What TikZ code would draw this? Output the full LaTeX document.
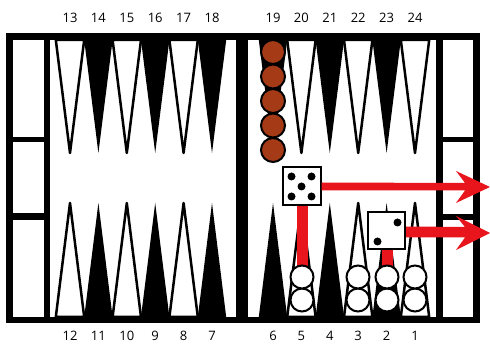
\documentclass[tikz,border=0pt]{standalone}
\usepackage{fontspec}
\setmainfont{Open Sans}
\definecolor{chkbrown}{RGB}{165,58,22}
\definecolor{arrred}{RGB}{232,22,28}
\begin{document}
\begin{tikzpicture}[x=1pt,y=-1pt,
  lbl/.style={font=\fontsize{13}{15}\selectfont, anchor=base, inner sep=0pt},
  wtri/.style={fill=white,draw=black,line width=2.5pt,line join=round},
  btri/.style={fill=black},
  bchk/.style={circle,fill=chkbrown,draw=black,line width=2pt,minimum size=24pt,inner sep=0pt},
  wchk/.style={circle,fill=white,draw=black,line width=2pt,minimum size=23pt,inner sep=0pt},
  diebox/.style={fill=white,draw=black,line width=2pt,inner sep=0pt},
  pip/.style={circle,fill=black,minimum size=8pt,inner sep=0pt},
  redbar/.style={fill=arrred}]
\useasboundingbox (0,0) rectangle (490,344);
% frame
\fill[black] (6,33) rectangle (480,323);
\fill[white] (13,40) rectangle (44,137);
\fill[white] (13,142) rectangle (44,213);
\fill[white] (13,220) rectangle (44,317);
\fill[white] (50,40) rectangle (236,317);
\fill[white] (248,40) rectangle (436,317);
\fill[white] (443,40) rectangle (473,137);
\fill[white] (443,142) rectangle (473,214);
\fill[white] (443,220) rectangle (473,317);
% triangles
\foreach \i in {0,...,5}{
  \pgfmathsetmacro{\xl}{70+28.4*\i}
  \pgfmathsetmacro{\xr}{273+28.4*\i}
  \ifodd\i
    \fill[btri] (\xl-14.2,40) -- (\xl,153) -- (\xl+14.2,40) -- cycle;
    \fill[btri] (\xl-14.2,317) -- (\xl,203) -- (\xl+14.2,317) -- cycle;
    \draw[wtri] (\xr-14.2,40) -- (\xr,153) -- (\xr+14.2,40) -- cycle;
    \draw[wtri] (\xr-14.2,317) -- (\xr,203) -- (\xr+14.2,317) -- cycle;
  \else
    \draw[wtri] (\xl-14.2,40) -- (\xl,153) -- (\xl+14.2,40) -- cycle;
    \draw[wtri] (\xl-14.2,317) -- (\xl,203) -- (\xl+14.2,317) -- cycle;
    \fill[btri] (\xr-14.2,40) -- (\xr,153) -- (\xr+14.2,40) -- cycle;
    \fill[btri] (\xr-14.2,317) -- (\xr,203) -- (\xr+14.2,317) -- cycle;
  \fi
}
% labels
\foreach \n [count=\k from 0] in {13,14,15,16,17,18}
  \node[lbl] (t\n) at (70+28.4*\k,23) {\n};
\foreach \n [count=\k from 0] in {19,20,21,22,23,24}
  \node[lbl] (t\n) at (273+28.4*\k,23) {\n};
\foreach \n [count=\k from 0] in {12,11,10,9,8,7}
  \node[lbl] (b\n) at (70+28.4*\k,340.5) {\n};
\foreach \n [count=\k from 0] in {6,5,4,3,2,1}
  \node[lbl] (b\n) at (273+28.4*\k,340.5) {\n};
% red connectors under checkers
\fill[redbar] (297,204) rectangle (308,268);
\fill[redbar] (382,249) rectangle (393,267);
% brown checkers on 19
\foreach \y [count=\k] in {52,76.5,101,125.5,150}
  \node[bchk] (bc\k) at (273,\y) {};
% white checkers
\foreach \x/\p in {302/5,358/3,387/2,415/1}{
  \node[wchk] (w\p a) at (\x,300) {};
  \node[wchk] (w\p b) at (\x,277) {};
}
% dice
\node[diebox,minimum size=38pt] (d1) at (301.5,186) {};
\node[pip] (p1) at (291.5,176.5) {};
\node[pip] (p2) at (311.5,176.5) {};
\node[pip] (p3) at (301.5,186.5) {};
\node[pip] (p4) at (291.5,196.5) {};
\node[pip] (p5) at (311.5,196.5) {};
\node[diebox,minimum size=37pt] (d2) at (386.5,231) {};
\node[pip] (q1) at (397.5,222.5) {};
\node[pip] (q2) at (377.5,241.5) {};
% arrows
\fill[arrred] (d1.east) ++(0,-3.5) -- (465,183) -- (456,171) -- (490,187) -- (456,203) -- (465,190.5) -| ([yshift=-3.5pt]d1.east) -- cycle;
\fill[arrred] (d2.east) ++(0,-4.5) -- (465,227) -- (456,216) -- (490,233) -- (456,250) -- (465,237.5) -| ([yshift=-4.5pt]d2.east) -- cycle;
\end{tikzpicture}
\end{document}
